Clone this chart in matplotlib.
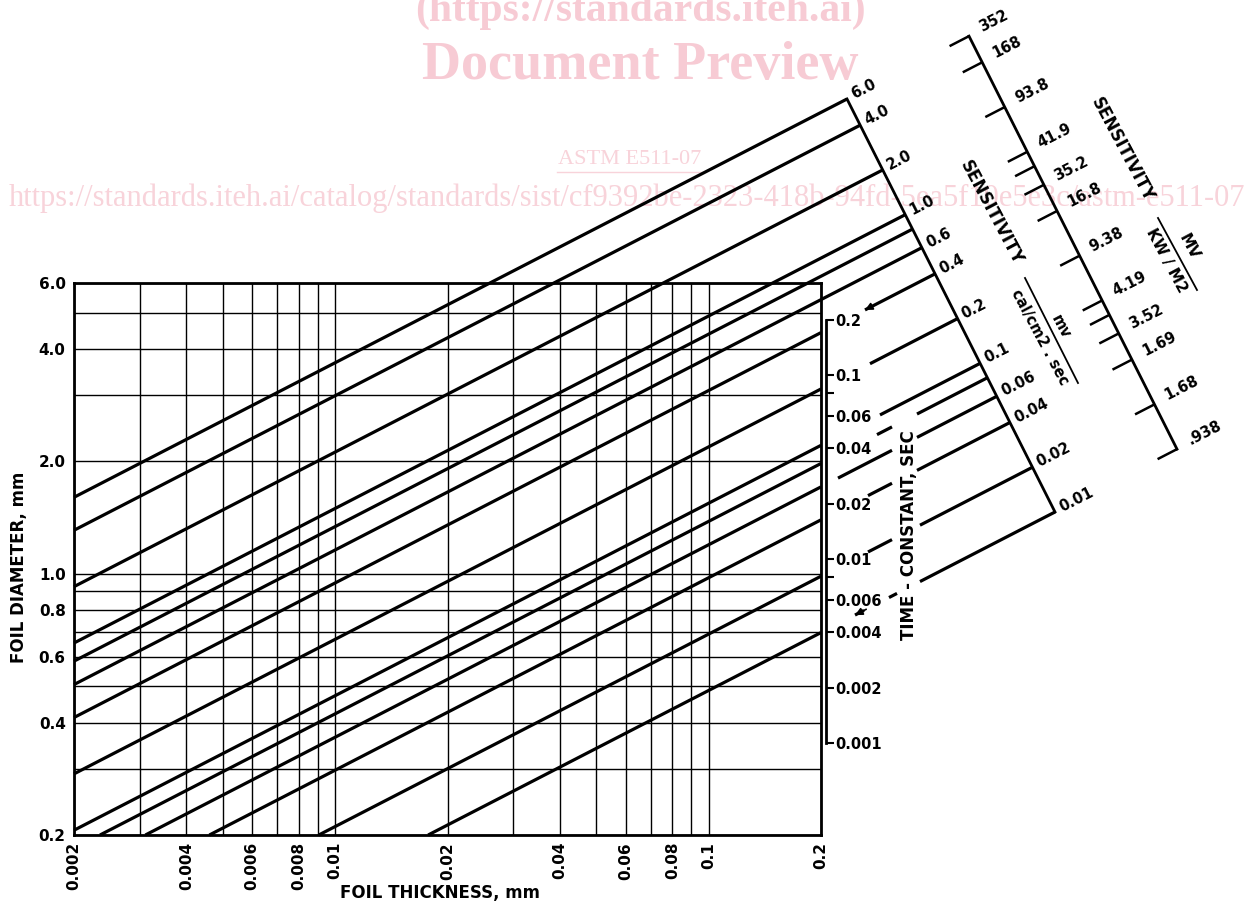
import math
import matplotlib
matplotlib.use("Agg")
import matplotlib.pyplot as plt
from matplotlib.ticker import FixedLocator, NullLocator

# ---------------- data ----------------
thickness_range = [0.002, 0.2]          # foil thickness, mm (x)
diameter_range = [0.2, 6.0]             # foil diameter, mm (y)
x_grid = [0.002, 0.003, 0.004, 0.005, 0.006, 0.007, 0.008, 0.009, 0.01,
          0.02, 0.03, 0.04, 0.05, 0.06, 0.07, 0.08, 0.09, 0.1, 0.2]
y_grid = [0.2, 0.3, 0.4, 0.5, 0.6, 0.7, 0.8, 0.9, 1.0, 2.0, 3.0, 4.0, 5.0, 6.0]
x_ticks = [0.002, 0.004, 0.006, 0.008, 0.01, 0.02, 0.04, 0.06, 0.08, 0.1, 0.2]
x_tick_labels = ["0.002", "0.004", "0.006", "0.008", "0.01", "0.02", "0.04",
                 "0.06", "0.08", "0.1", "0.2"]
y_ticks = [0.2, 0.4, 0.6, 0.8, 1.0, 2.0, 4.0, 6.0]
y_tick_labels = ["0.2", "0.4", "0.6", "0.8", "1.0", "2.0", "4.0", "6.0"]

# sensitivity lines, mv/(cal/cm2 sec)
sens_lines = [6.0, 4.0, 2.0, 1.0, 0.8, 0.6, 0.4, 0.2, 0.1, 0.08, 0.06, 0.04, 0.02, 0.01]
sens_label_values = [6.0, 4.0, 2.0, 1.0, 0.6, 0.4, 0.2, 0.1, 0.06, 0.04, 0.02, 0.01]
sens_labels = ["6.0", "4.0", "2.0", "1.0", "0.6", "0.4", "0.2", "0.1", "0.06",
               "0.04", "0.02", "0.01"]
kw_labels = ["352", "168", "93.8", "41.9", "35.2", "16.8", "9.38", "4.19",
             "3.52", "1.69", "1.68", ".938"]

# time constant scale, sec
tau_range = [0.001, 0.2]
tau_ticks = [0.001, 0.002, 0.004, 0.006, 0.008, 0.01, 0.02, 0.04, 0.06, 0.08, 0.1, 0.2]
tau_tick_labels = ["0.001", "0.002", "0.004", "0.006", "", "0.01", "0.02",
                   "0.04", "0.06", "", "0.1", "0.2"]

# ---------------- layout ----------------
W_PX, H_PX = 1255, 906
AX_L, AX_R, AX_T, AX_B = 74, 821, 283, 835
SCALE_TOP_PX = (847, 99)      # where the 6.0 line meets the slanted scale
SCALE_BOT_PX = (1055, 512)    # where the 0.01 line meets the slanted scale
OUTER_SHIFT_X_PX = 122        # outer (KW/M2) scale shift along the lines
SLOPE = 0.515                 # slope of the drawn lines in log-log space
TAU_X_PX = 826
LW_LINE = 2.3
INK = "black"

# gaps (pixel x ranges) in the extensions, avoiding the labels
GAPS = {
    0.4: [(AX_R, 865)],
    0.2: [(AX_R, 870)],
    0.1: [(AX_R, 880)],
    0.08: [(AX_R, 877), (892, 917)],
    0.06: [(AX_R, 838), (892, 917)],
    0.04: [(AX_R, 868), (892, 917)],
    0.02: [(AX_R, 868), (892, 920)],
    0.01: [(AX_R, 855), (864, 889), (897, 920)],
}
ARROWS = {0.4: 865, 0.01: 855}

plt.rcParams["font.family"] = ["DejaVu Sans"]
plt.rcParams["font.weight"] = "bold"

fig = plt.figure(figsize=(W_PX / 100, H_PX / 100), dpi=100)


def fx(p):
    return p / W_PX


def fy(p):
    return 1 - p / H_PX


# ---------- watermark (behind everything) ----------
WM = "#f7cbd4"
WM2 = "#f8d3da"
fig.text(fx(640), fy(11), "(https://standards.iteh.ai)", ha="center", va="center",
         fontsize=30, fontweight="bold", family="Liberation Serif", color=WM, zorder=-5)
fig.text(fx(640), fy(66), "Document Preview", ha="center", va="center",
         fontsize=39, fontweight="bold", family="Liberation Serif", color=WM, zorder=-5)
fig.text(fx(630), fy(160), "ASTM E511-07", ha="center", va="center",
         fontsize=16, fontweight="normal", family="Liberation Serif", color=WM2, zorder=-5)
fig.add_artist(plt.Line2D([fx(557), fx(703)], [fy(172), fy(172)], color=WM2, lw=1, zorder=-5))
fig.text(fx(627), fy(198), "https://standards.iteh.ai/catalog/standards/sist/cf9392be-2323-418b-94fd-5ea5f10e5e3c/astm-e511-07",
         ha="center", va="center", fontsize=22, fontweight="normal",
         family="Liberation Serif", color=WM2, zorder=-5)

# ---------- main log-log axes ----------
ax = fig.add_axes([fx(AX_L), fy(AX_B), (AX_R - AX_L) / W_PX, (AX_B - AX_T) / H_PX])
ax.set_xscale("log")
ax.set_yscale("log")
ax.set_xlim(*thickness_range)
ax.set_ylim(*diameter_range)
ax.patch.set_alpha(0)
ax.vlines(x_grid, diameter_range[0], diameter_range[1], color=INK, lw=1.0, zorder=1)
ax.hlines(y_grid, thickness_range[0], thickness_range[1], color=INK, lw=1.0, zorder=1)
ax.xaxis.set_major_locator(FixedLocator(x_ticks))
ax.yaxis.set_major_locator(FixedLocator(y_ticks))
ax.xaxis.set_minor_locator(NullLocator())
ax.yaxis.set_minor_locator(NullLocator())
ax.set_xticklabels(x_tick_labels, rotation=90, fontsize=11)
ax.set_yticklabels(y_tick_labels, fontsize=11)
ax.tick_params(length=0)
ax.tick_params(axis="x", pad=5)
ax.tick_params(axis="y", pad=6)
for s in ax.spines.values():
    s.set_linewidth(2.0)

lx0 = math.log10(thickness_range[0])
lx1 = math.log10(thickness_range[1])
ly0 = math.log10(diameter_range[0])
ly1 = math.log10(diameter_range[1])


def px_to_log(px, py):
    lt = lx0 + (px - AX_L) / (AX_R - AX_L) * (lx1 - lx0)
    ld = ly0 + (AX_B - py) / (AX_B - AX_T) * (ly1 - ly0)
    return lt, ld


def px_to_logt(px):
    return lx0 + (px - AX_L) / (AX_R - AX_L) * (lx1 - lx0)


top_lt, top_ld = px_to_log(*SCALE_TOP_PX)
bot_lt, bot_ld = px_to_log(*SCALE_BOT_PX)
smax, smin = max(sens_lines), min(sens_lines)
span = math.log10(smax / smin)
outer_du = OUTER_SHIFT_X_PX / (AX_R - AX_L) * (lx1 - lx0)
outer_dv = SLOPE * outer_du


def scale_point(S):
    f = math.log10(smax / S) / span
    return top_lt + f * (bot_lt - top_lt), top_ld + f * (bot_ld - top_ld)


def line_ld(S, lt):
    elt, eld = scale_point(S)
    return eld + SLOPE * (lt - elt)


def seg(a, b, S):
    ax.plot([10 ** a, 10 ** b], [10 ** line_ld(S, a), 10 ** line_ld(S, b)],
            color=INK, lw=LW_LINE, clip_on=False, solid_capstyle="butt", zorder=3)


for S in sens_lines:
    elt, eld = scale_point(S)
    lt_s = lx0
    if line_ld(S, lt_s) < ly0:
        lt_s = elt + (ly0 - eld) / SLOPE
    pieces = []
    cur = lt_s
    for a, b in GAPS.get(S, []):
        pieces.append((cur, px_to_logt(a)))
        cur = px_to_logt(b)
    pieces.append((cur, elt))
    for a, b in pieces:
        seg(a, b, S)
    if S in ARROWS:
        tip = px_to_logt(ARROWS[S])
        tail = tip + 0.03
        ax.annotate("", xy=(10 ** tip, 10 ** line_ld(S, tip)),
                    xytext=(10 ** tail, 10 ** line_ld(S, tail)),
                    arrowprops=dict(arrowstyle="-|>", mutation_scale=11, lw=1.2,
                                    color=INK, shrinkA=0, shrinkB=0),
                    annotation_clip=False)

# inner slanted scale
ax.plot([10 ** top_lt, 10 ** bot_lt], [10 ** top_ld, 10 ** bot_ld], color=INK,
        lw=2.0, clip_on=False, zorder=3)
# outer slanted scale
ax.plot([10 ** (top_lt + outer_du), 10 ** (bot_lt + outer_du)],
        [10 ** (top_ld + outer_dv), 10 ** (bot_ld + outer_dv)], color=INK,
        lw=2.0, clip_on=False, zorder=3)
tick_du = 0.052
for S in sens_lines:
    elt, eld = scale_point(S)
    olt, old = elt + outer_du, eld + outer_dv
    ax.plot([10 ** (olt - tick_du), 10 ** olt], [10 ** (old - SLOPE * tick_du), 10 ** old],
            color=INK, lw=1.8, clip_on=False, solid_capstyle="butt", zorder=3)

for S, lab in zip(sens_label_values, sens_labels):
    elt, eld = scale_point(S)
    ax.annotate(lab, xy=(10 ** elt, 10 ** eld), xytext=(5, 4), textcoords="offset pixels",
                rotation=27, rotation_mode="anchor", ha="left", va="center",
                fontsize=10.5, annotation_clip=False)
for S, lab in zip(sens_label_values, kw_labels):
    elt, eld = scale_point(S)
    ax.annotate(lab, xy=(10 ** (elt + outer_du), 10 ** (eld + outer_dv)), xytext=(11, 8),
                textcoords="offset pixels", rotation=27, rotation_mode="anchor",
                ha="left", va="center", fontsize=10.5, annotation_clip=False)

# scale titles
fig.text(fx(991), fy(213), "SENSITIVITY", rotation=-62, ha="center", va="center", fontsize=12)
fig.text(fx(1061), fy(327), "mv", rotation=-62, ha="center", va="center", fontsize=10.5)
fig.add_artist(plt.Line2D([fx(1025), fx(1078)], [fy(278), fy(383)], color=INK, lw=1.3))
fig.text(fx(1040), fy(337), "cal/cm2 . sec", rotation=-62, ha="center", va="center", fontsize=10.5)
fig.text(fx(1122), fy(150), "SENSITIVITY", rotation=-62, ha="center", va="center", fontsize=12)
fig.text(fx(1189), fy(247), "MV", rotation=-62, ha="center", va="center", fontsize=11)
fig.add_artist(plt.Line2D([fx(1158), fx(1197)], [fy(218), fy(290)], color=INK, lw=1.3))
fig.text(fx(1166), fy(261), "KW / M2", rotation=-62, ha="center", va="center", fontsize=11)

# axis titles
fig.text(fx(19), fy(567), "FOIL DIAMETER, mm", rotation=90, ha="center", va="center", fontsize=12)
fig.text(fx(440), fy(893), "FOIL THICKNESS, mm", ha="center", va="center", fontsize=12)

# ---------- time-constant scale ----------
ax_t = fig.add_axes([fx(TAU_X_PX) - 0.0004, fy(AX_B), 0.0004, (AX_B - AX_T) / H_PX])
ax_t.set_yscale("log")
ax_t.set_ylim(10 ** -3.5, 10 ** -0.5)
ax_t.patch.set_visible(False)
for s in ["left", "top", "bottom"]:
    ax_t.spines[s].set_visible(False)
ax_t.spines["right"].set_bounds(*tau_range)
ax_t.spines["right"].set_linewidth(2.0)
ax_t.set_xticks([])
ax_t.yaxis.tick_right()
ax_t.yaxis.set_major_locator(FixedLocator(tau_ticks))
ax_t.yaxis.set_minor_locator(NullLocator())
ax_t.set_yticklabels(tau_tick_labels, fontsize=10.5)
ax_t.tick_params(axis="y", direction="out", length=6, width=1.5, pad=1)
fig.text(fx(909), fy(535), "TIME - CONSTANT, SEC", rotation=90, ha="center", va="center",
         fontsize=12)

fig.savefig("out.png", dpi=100)
